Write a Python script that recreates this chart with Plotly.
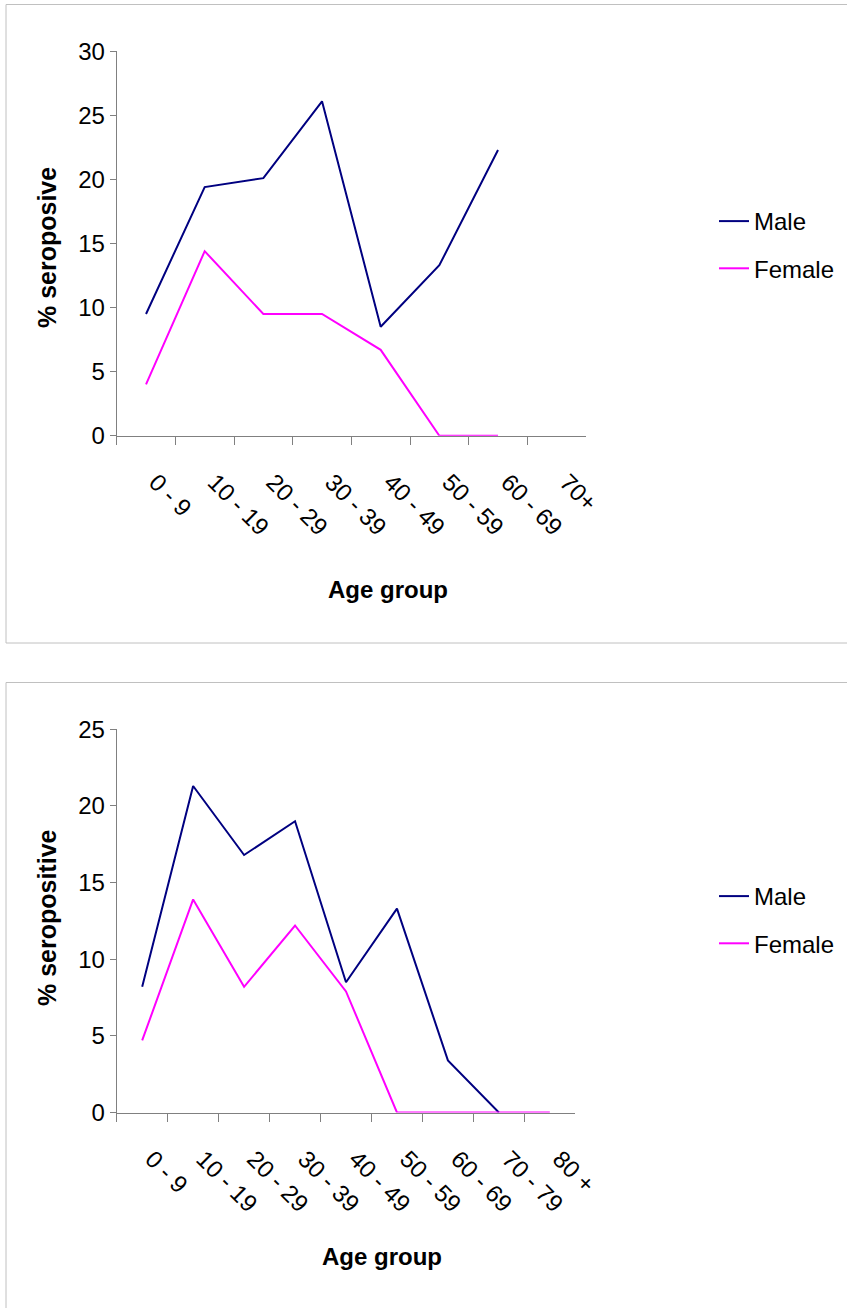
import plotly.graph_objects as go

# ---- data ----
ages_top = ["0 - 9", "10 - 19", "20 - 29", "30 - 39", "40 - 49", "50 - 59", "60 - 69", "70+"]
male_top = [9.5, 19.4, 20.1, 26.1, 8.5, 13.3, 22.3]
female_top = [4.0, 14.4, 9.5, 9.5, 6.7, 0.0, 0.0]

ages_bot = ["0 - 9", "10 - 19", "20 - 29", "30 - 39", "40 - 49", "50 - 59", "60 - 69", "70 - 79", "80 +"]
male_bot = [8.2, 21.3, 16.8, 19.0, 8.5, 13.3, 3.4, 0.0]
female_bot = [4.7, 13.9, 8.2, 12.2, 7.9, 0.0, 0.0, 0.0, 0.0]

MALE_C = "#000080"
FEMALE_C = "#FF00FF"
W, H = 847, 1308
FONT = "Liberation Sans, Arial, sans-serif"

def px(x):
    return x / W

def py(y):
    return 1 - y / H

fig = go.Figure()
fig.add_trace(go.Scatter(x=ages_top[:len(male_top)], y=male_top, mode="lines", name="Male",
                         line=dict(color=MALE_C, width=2), xaxis="x", yaxis="y",
                         legend="legend", legendgroup="m1"))
fig.add_trace(go.Scatter(x=ages_top[:len(female_top)], y=female_top, mode="lines", name="Female",
                         line=dict(color=FEMALE_C, width=2), xaxis="x", yaxis="y",
                         legend="legend", legendgroup="f1"))
fig.add_trace(go.Scatter(x=ages_bot[:len(male_bot)], y=male_bot, mode="lines", name="Male",
                         line=dict(color=MALE_C, width=2), xaxis="x2", yaxis="y2",
                         legend="legend2", legendgroup="m2"))
fig.add_trace(go.Scatter(x=ages_bot[:len(female_bot)], y=female_bot, mode="lines", name="Female",
                         line=dict(color=FEMALE_C, width=2), xaxis="x2", yaxis="y2",
                         legend="legend2", legendgroup="f2"))

axis_common = dict(showline=True, linecolor="#808080", linewidth=1, showgrid=False,
                   zeroline=False, ticks="outside", tickcolor="#808080", automargin=False)
xtick_font = dict(family=FONT, size=24, color="#000000")
ytick_font = dict(family=FONT, size=24, color="#000000")

fig.update_layout(
    width=W, height=H,
    margin=dict(l=0, r=0, t=0, b=0, pad=0, autoexpand=False),
    paper_bgcolor="white", plot_bgcolor="white",
    font=dict(family=FONT, color="#000000"),
    xaxis=dict(domain=[px(116.7), px(586)], anchor="y", type="category",
               categoryorder="array", categoryarray=ages_top, range=[-0.5, 7.5],
               tickson="boundaries", tickangle=45, ticklen=8, ticklabelstandoff=22,
               ticklabelshift=10, tickfont=xtick_font, **axis_common),
    yaxis=dict(domain=[py(435.7), py(51.3)], anchor="x", range=[0, 30], dtick=5,
               ticklen=6, tickfont=ytick_font, **axis_common),
    xaxis2=dict(domain=[px(116.7), px(575.3)], anchor="y2", type="category",
                categoryorder="array", categoryarray=ages_bot, range=[-0.5, 8.5],
                tickson="boundaries", tickangle=45, ticklen=8, ticklabelstandoff=22,
                ticklabelshift=10, tickfont=xtick_font, **axis_common),
    yaxis2=dict(domain=[py(1112.5), py(729.3)], anchor="x2", range=[0, 25], dtick=5,
                ticklen=6, tickfont=ytick_font, **axis_common),
    legend=dict(x=px(714), y=py(199), xanchor="left", yanchor="top",
                font=dict(family=FONT, size=24), tracegroupgap=13,
                bgcolor="rgba(0,0,0,0)"),
    legend2=dict(x=px(714), y=py(874), xanchor="left", yanchor="top",
                 font=dict(family=FONT, size=24), tracegroupgap=13,
                 bgcolor="rgba(0,0,0,0)"),
    showlegend=True,
)

ytitle_font = dict(family=FONT, size=25, color="#000000")
xtitle_font = dict(family=FONT, size=24, color="#000000")
fig.add_annotation(text="<b>% seroposive</b>", x=px(47), y=py(248), xref="paper", yref="paper",
                   textangle=-90, showarrow=False, font=ytitle_font, xanchor="center", yanchor="middle")
fig.add_annotation(text="<b>Age group</b>", x=px(388), y=py(590), xref="paper", yref="paper",
                   showarrow=False, font=xtitle_font, xanchor="center", yanchor="middle")
fig.add_annotation(text="<b>% seropositive</b>", x=px(47), y=py(918), xref="paper", yref="paper",
                   textangle=-90, showarrow=False, font=ytitle_font, xanchor="center", yanchor="middle")
fig.add_annotation(text="<b>Age group</b>", x=px(382), y=py(1256), xref="paper", yref="paper",
                   showarrow=False, font=xtitle_font, xanchor="center", yanchor="middle")

# panel frames
fig.add_shape(type="rect", xref="paper", yref="paper", x0=px(6), x1=px(849), y0=py(643), y1=py(4.5),
              line=dict(color="#c0c0c0", width=1), layer="below")
fig.add_shape(type="rect", xref="paper", yref="paper", x0=px(6), x1=px(849), y0=py(1312), y1=py(682.5),
              line=dict(color="#c0c0c0", width=1), layer="below")

fig.write_html(
    "out.html",
    config={"displayModeBar": False, "responsive": False},
    post_script=("document.documentElement.style.margin='0';"
                 "document.documentElement.style.overflow='hidden';"
                 "document.body.style.margin='0';document.body.style.overflow='hidden';"),
)
